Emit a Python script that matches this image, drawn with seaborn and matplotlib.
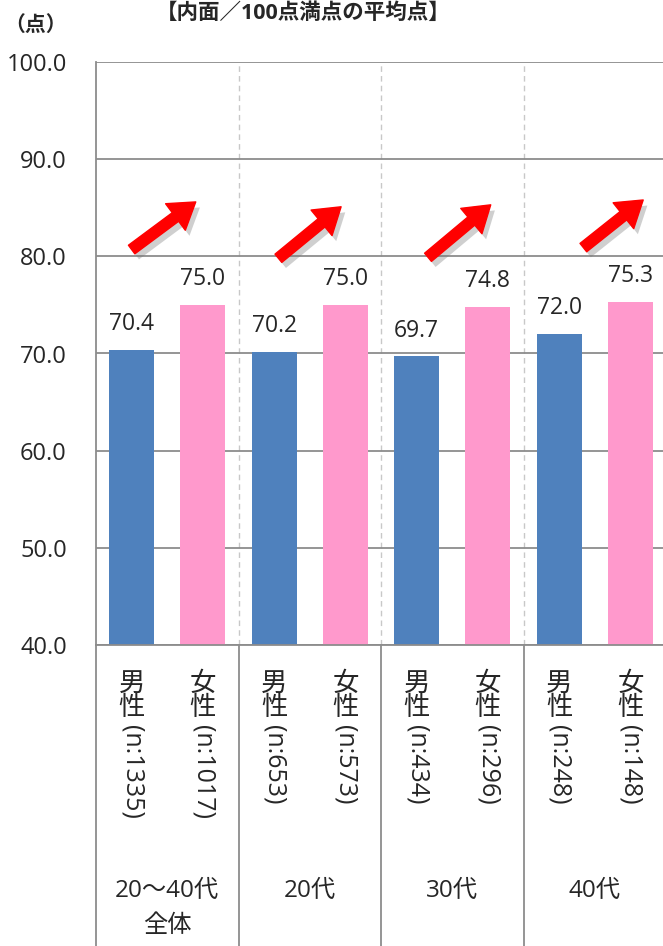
import pandas as pd
import matplotlib.pyplot as plt
import matplotlib.patheffects as pe
import matplotlib.transforms as mtransforms
import seaborn as sns

# 内面／100点満点の平均点（性別・年代別）
groups = ['20〜40代\n全体', '20代', '30代', '40代']
sexes = ['男性', '女性']
male_scores = [70.4, 70.2, 69.7, 72.0]
female_scores = [75.0, 75.0, 74.8, 75.3]
male_n = [1335, 653, 434, 248]
female_n = [1017, 573, 296, 148]

df = pd.DataFrame({
    'group': groups * 2,
    'sex': ['男性'] * 4 + ['女性'] * 4,
    'score': male_scores + female_scores,
    'n': male_n + female_n,
})

sns.set_style('white')
plt.rcParams['font.family'] = ['Open Sans', 'Noto Sans CJK JP', 'DejaVu Sans']

fig = plt.figure(figsize=(6.63, 9.46), dpi=100)
ax = fig.add_axes([96 / 663, 301 / 946, 570 / 663, 583 / 946])

sns.barplot(data=df, x='group', y='score', hue='sex', hue_order=sexes,
            palette={'男性': '#4F81BD', '女性': '#FF99CC'},
            width=1.0, gap=0.37, linewidth=0, saturation=1,
            legend=False, ax=ax)

for c in ax.containers:
    ax.bar_label(c, fmt='%.1f', padding=10, fontsize=16.5)

ax.set_ylim(40, 100)
ax.set_yticks(range(40, 101, 10))
ax.set_yticklabels([f'{v:.1f}' for v in range(40, 101, 10)], fontsize=17)
ax.set_xlim(-0.5, len(groups) - 0.5)
ax.set_xticks([])
ax.set_xlabel('')
ax.set_ylabel('')
ax.tick_params(axis='y', length=0, pad=21)
ax.yaxis.grid(True, color='#8c8c8c', lw=1.3)
ax.set_axisbelow(True)
for s in ['top', 'right']:
    ax.spines[s].set_visible(False)
for s in ['left', 'bottom']:
    ax.spines[s].set_color('#8c8c8c')
    ax.spines[s].set_linewidth(1.3)

# 年代の区切り（点線）
for i in range(1, len(groups)):
    ax.axvline(i - 0.5, color='#c8c8c8', lw=1, ls=(0, (4, 3)), zorder=0)

# 上昇矢印
arrow_off = [(-0.25, 80.7, 0.2, 85.6), (-0.22, 79.8, 0.22, 85.1),
             (-0.17, 79.9, 0.27, 85.3), (-0.08, 80.9, 0.34, 85.8)]
for i, (x0, y0, x1, y1) in enumerate(arrow_off):
    ann = ax.annotate('', xy=(i + x1, y1), xytext=(i + x0, y0),
                      arrowprops=dict(arrowstyle='simple,head_length=1.3,head_width=1.7,tail_width=0.55',
                                      fc='#FF0000', ec='#FF0000', mutation_scale=14,
                                      shrinkA=0, shrinkB=0))
    ann.arrow_patch.set_path_effects([
        pe.SimplePatchShadow(offset=(3, -4), shadow_rgbFace='#777777', alpha=0.35),
        pe.Normal()])

# 下の表部分
trans = mtransforms.blended_transform_factory(ax.transData, ax.transAxes)
fig_bottom = -301 / 583
for i in range(len(groups) + 1):
    ax.plot([i - 0.5, i - 0.5], [0, fig_bottom], transform=trans,
            color='#8c8c8c', lw=1.3, clip_on=False)

for j, (sex, ns) in enumerate(zip(sexes, [male_n, female_n])):
    for i, n in enumerate(ns):
        x = i - 0.25 + 0.5 * j
        ax.text(x, -27 / 583, sex[0] + '\n' + sex[1], transform=trans,
                ha='center', va='top', fontsize=19, linespacing=0.95)
        ax.text(x, -80 / 583, f'(n:{n})', transform=trans,
                ha='center', va='top', rotation=-90, fontsize=18)

for i, g in enumerate(groups):
    ax.text(i, -234 / 583, g, transform=trans, ha='center', va='top',
            fontsize=17.5, linespacing=1.6)

# タイトル・単位
fig.text(303 / 663, 1 - 13 / 946, '【内面／100点満点の平均点】', ha='center', va='center',
         fontsize=15.5, fontweight='bold')
fig.text(4 / 663, 1 - 25 / 946, '（点）', ha='left', va='center',
         fontsize=15, fontweight='bold')

fig.savefig('out.png', dpi=100)
